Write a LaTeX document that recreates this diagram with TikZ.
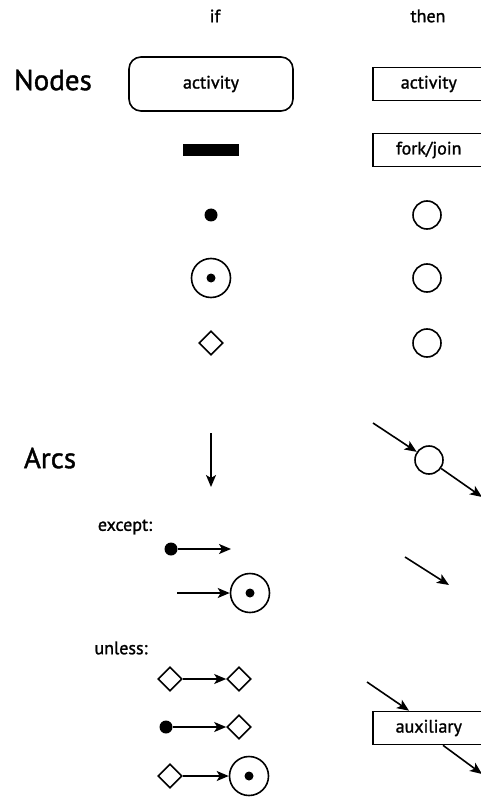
\documentclass[tikz,border=0pt]{standalone}
\usepackage{fontspec}
\setmainfont{PT Sans}[RawFeature={embolden=1.3}]
\usetikzlibrary{arrows.meta,shapes.geometric}
\begin{document}
\begin{tikzpicture}[x=1pt,y=-1pt,line width=1.6pt,
  lbl/.style={font=\fontsize{18}{20}\selectfont,inner sep=0pt},
  big/.style={font=\fontsize{29}{32}\selectfont,inner sep=0pt},
  rbox/.style={draw,rounded corners=12pt,minimum width=164pt,minimum height=54pt,font=\fontsize{18}{20}\selectfont},
  sbox/.style={draw,minimum width=112pt,minimum height=33pt,font=\fontsize{18}{20}\selectfont,anchor=west},
  bar/.style={fill=black,minimum width=56pt,minimum height=12pt,inner sep=0pt},
  dot/.style={circle,fill=black,minimum size=13pt,inner sep=0pt},
  ring/.style={circle,draw,minimum size=28pt,inner sep=0pt},
  bull/.style={circle,draw,minimum size=39pt,inner sep=0pt,
     path picture={\fill[black] (path picture bounding box.center) circle[radius=4.5pt];}},
  dia/.style={diamond,draw,minimum size=24pt,inner sep=0pt,aspect=1},
  arr/.style={-{Stealth[length=12pt,width=10pt,inset=3pt]}}
]
\useasboundingbox (0,0) rectangle (481,802);
\clip (0,0) rectangle (481,802);
% headers
\node[lbl] (hif) at (215,16) {if};
\node[lbl] (hthen) at (428,16) {then};
\node[big] (nodes) at (53,80) {Nodes};
\node[big] (arcs) at (50,458) {Arcs};
% nodes
\node[rbox] (act) at (211,84) {activity};
\node[sbox] (act2) at (372,84) {activity};
\node[bar] (fork) at (211,150) {};
\node[sbox] (fj) at (372,150) {fork/join};
\node[dot] (d1) at (211,215) {};
\node[ring] (c1) at (427,215) {};
\node[bull] (b1) at (211,278) {};
\node[ring] (c2) at (427,278) {};
\node[dia] (m1) at (211,343) {};
\node[ring] (c3) at (427,343) {};
% arcs
\coordinate (a1s) at (211,433);
\coordinate (a1e) at (211,487);
\draw[arr] (a1s) -- (a1e);
\node[ring] (c4) at (429,460) {};
\coordinate (c4in) at (373,423);
\coordinate (c4out) at (482,497);
\draw[arr] (c4in) -- (c4);
\draw[arr] (c4) -- (c4out);
\node[lbl] (exc) at (125,527) {except:};
\node[dot] (d2) at (171,549) {};
\coordinate (d2e) at (231,549);
\draw[arr] (d2) -- (d2e);
\coordinate (b2s) at (177,593);
\node[bull] (b2) at (250,593) {};
\draw[arr] (b2s) -- (b2);
\coordinate (p1) at (405,557);
\coordinate (p2) at (449,585);
\draw[arr] (p1) -- (p2);
\node[lbl] (unl) at (121,648) {unless:};
\node[dia] (m2) at (170,679) {};
\node[dia] (m3) at (239,679) {};
\draw[arr] (m2) -- (m3);
\node[dot] (d3) at (166,727) {};
\node[dia] (m4) at (239,727) {};
\draw[arr] (d3) -- (m4);
\node[dia] (m5) at (170,776) {};
\node[bull] (b3) at (249,776) {};
\draw[arr] (m5) -- (b3);
\node[sbox] (aux) at (372,728) {auxiliary};
\coordinate (auxin) at (367,682);
\coordinate (auxout) at (482,774);
\draw[arr] (auxin) -- (aux.north -| 409,0);
\draw[arr] (aux.south -| 443,0) -- (auxout);
\end{tikzpicture}
\end{document}
